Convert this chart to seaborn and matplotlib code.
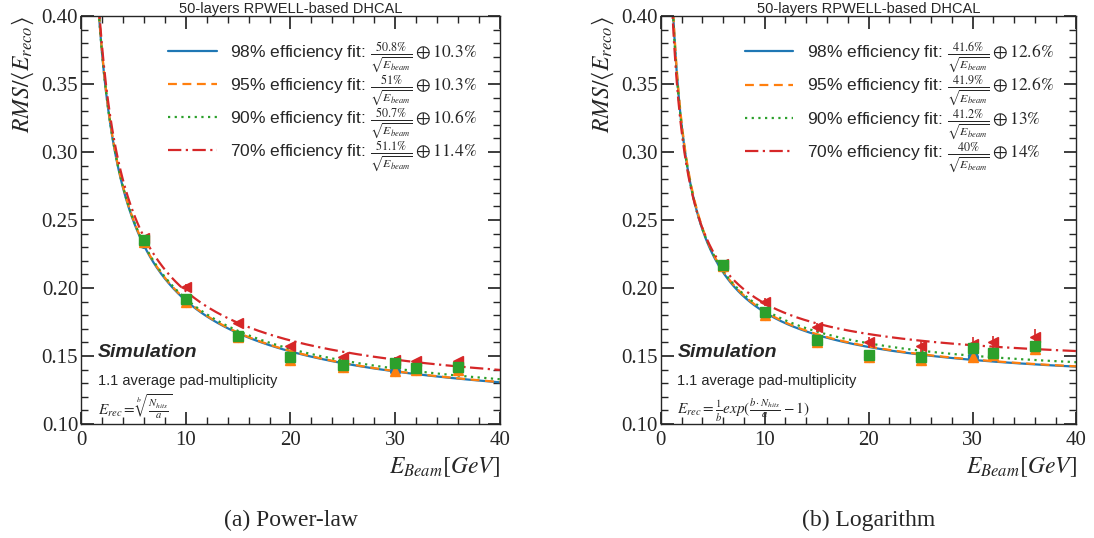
import numpy as np
import pandas as pd
import matplotlib
matplotlib.use("Agg")
import matplotlib.pyplot as plt
from matplotlib.ticker import MultipleLocator, FormatStrFormatter
import seaborn as sns

sns.set_theme(style="ticks")
plt.rcParams["font.family"] = ["Liberation Sans", "DejaVu Sans"]
plt.rcParams["mathtext.fontset"] = "stix"

# beam energies (GeV)
energy = [6, 10, 15, 20, 25, 30, 32, 36]
efficiencies = ["98%", "95%", "90%", "70%"]

# power-law reconstruction: resolution per efficiency
pl_98 = [0.233, 0.190, 0.164, 0.147, 0.142, 0.139, 0.140, 0.140]
pl_95 = [0.234, 0.190, 0.164, 0.147, 0.142, 0.139, 0.140, 0.140]
pl_90 = [0.235, 0.192, 0.165, 0.149, 0.143, 0.145, 0.141, 0.142]
pl_70 = [0.237, 0.201, 0.174, 0.157, 0.149, 0.147, 0.146, 0.146]
pl_err = [0.002, 0.002, 0.002, 0.002, 0.002, 0.002, 0.002, 0.002]
# fit parameters (stochastic %, constant %)
pl_stoch = [50.8, 51, 50.7, 51.1]
pl_const = [10.3, 10.3, 10.6, 11.4]

# logarithmic reconstruction
lg_98 = [0.216, 0.180, 0.160, 0.149, 0.147, 0.149, 0.151, 0.155]
lg_95 = [0.216, 0.180, 0.160, 0.149, 0.147, 0.149, 0.151, 0.155]
lg_90 = [0.217, 0.182, 0.162, 0.151, 0.149, 0.156, 0.152, 0.157]
lg_70 = [0.218, 0.190, 0.171, 0.160, 0.157, 0.159, 0.160, 0.164]
lg_err = [0.002, 0.003, 0.003, 0.004, 0.005, 0.005, 0.005, 0.006]
lg_stoch = [41.6, 41.9, 41.2, 40]
lg_const = [12.6, 12.6, 13, 14]

colors = ["#1f77b4", "#ff7f0e", "#2ca02c", "#d62728"]
styles = ["-", (0, (4, 2.5)), (0, (1, 2)), (0, (6, 2, 1, 2))]
markers = ["o", "^", "s", "<"]

fig = plt.figure(figsize=(10.94, 5.38), dpi=100)
ax1 = fig.add_axes([0.074, 0.212, 0.383, 0.758])
ax2 = fig.add_axes([0.604, 0.212, 0.380, 0.758])


def fmt(v):
    return ("%g" % v) + r"\%"


def draw(ax, series, err, stoch, const, formula, caption):
    e_fit = np.linspace(0.5, 40, 400)
    for i in range(4):
        res = np.sqrt((stoch[i] / 100) ** 2 / e_fit + (const[i] / 100) ** 2)
        df = pd.DataFrame({"E": e_fit, "res": res})
        lab = (efficiencies[i] + " efficiency fit: "
               + r"$\frac{" + fmt(stoch[i]) + r"}{\sqrt{E_{beam}}}\oplus " + fmt(const[i]) + "$")
        sns.lineplot(data=df, x="E", y="res", ax=ax, color=colors[i],
                     linestyle=styles[i], linewidth=1.6, label=lab)
    for i in [3, 0, 1, 2]:
        ax.errorbar(energy, series[i], yerr=err if i == 3 else None, fmt=markers[i],
                    color=colors[i], markersize=7, capsize=0, elinewidth=1.2, zorder=5)
    ax.set_xlim(0, 40)
    ax.set_ylim(0.10, 0.40)
    ax.xaxis.set_major_locator(MultipleLocator(10))
    ax.xaxis.set_minor_locator(MultipleLocator(2))
    ax.yaxis.set_major_locator(MultipleLocator(0.05))
    ax.yaxis.set_minor_locator(MultipleLocator(0.01))
    ax.yaxis.set_major_formatter(FormatStrFormatter("%.2f"))
    ax.tick_params(which="both", direction="in", top=True, right=True)
    ax.tick_params(which="major", length=9, labelsize=15,
                   labelfontfamily="Liberation Serif")
    ax.tick_params(axis="y", pad=2)
    ax.tick_params(axis="x", pad=5)
    ax.tick_params(which="minor", length=5)
    for s in ax.spines.values():
        s.set_linewidth(1.0)
    ax.set_xlabel(r"$E_{Beam}[GeV]$", fontsize=17, loc="right")
    ax.set_ylabel(r"$RMS/\langle E_{reco}\rangle$", fontsize=17, loc="top")
    ax.set_title("50-layers RPWELL-based DHCAL", fontsize=10.5, pad=2)
    ax.legend(loc="upper right", bbox_to_anchor=(0.975, 0.97), frameon=False,
              fontsize=12.5, handlelength=2.8, labelspacing=-0.08, borderaxespad=0.3)
    ax.text(0.04, 0.163, "Simulation", transform=ax.transAxes, fontsize=14,
            fontweight="bold", fontstyle="italic")
    ax.text(0.04, 0.095, "1.1 average pad-multiplicity", transform=ax.transAxes, fontsize=10.5)
    ax.text(0.04, 0.022, formula, transform=ax.transAxes, fontsize=11)
    ax.text(0.5, -0.25, caption, transform=ax.transAxes, fontsize=17,
            ha="center", family="Liberation Serif")


draw(ax1, [pl_98, pl_95, pl_90, pl_70], pl_err, pl_stoch, pl_const,
     r"$E_{rec}=\sqrt[b]{\frac{N_{hits}}{a}}$", "(a) Power-law")
draw(ax2, [lg_98, lg_95, lg_90, lg_70], lg_err, lg_stoch, lg_const,
     r"$E_{rec}=\frac{1}{b}exp(\frac{b\cdot N_{hits}}{a}-1)$", "(b) Logarithm")

fig.savefig("out.png", dpi=100)
